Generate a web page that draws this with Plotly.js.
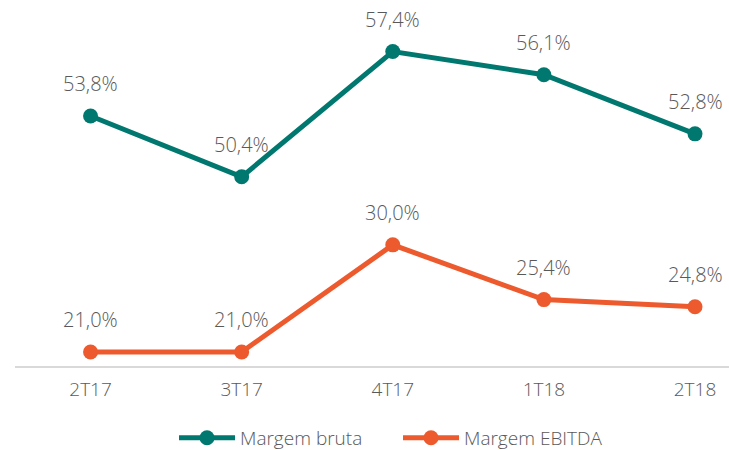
<!DOCTYPE html>
<html>
<head>
<meta charset="utf-8">
<script src="https://cdn.plot.ly/plotly-3.0.1.min.js"></script>
<style>html,body{margin:0;padding:0;background:#fff;}#chart{width:729px;height:450px;}</style>
</head>
<body>
<div id="chart"></div>
<script>
const categories = ["2T17", "3T17", "4T17", "1T18", "2T18"];
const margemBruta = [53.8, 50.4, 57.4, 56.1, 52.8];
const margemEbitda = [21.0, 21.0, 30.0, 25.4, 24.8];
const seriesNames = ["Margem bruta", "Margem EBITDA"];

const teal = "#00786f";
const orange = "#ec5a2e";
const fontFam = "'Open Sans', 'Noto Sans', sans-serif";
const txtCol = "#595959";
const fmt = v => v.toFixed(1).replace(".", ",") + "%";

const traces = [
  {x: categories, y: margemBruta, name: seriesNames[0], type: "scatter", mode: "lines+markers",
   line: {color: teal, width: 5}, marker: {color: teal, size: 15}, yaxis: "y", hoverinfo: "skip"},
  {x: categories, y: margemEbitda, name: seriesNames[1], type: "scatter", mode: "lines+markers",
   line: {color: orange, width: 5}, marker: {color: orange, size: 15}, yaxis: "y2", hoverinfo: "skip"}
];

const labFont = {size: 20, color: txtCol, family: fontFam, weight: 300};
const annotations = [];
categories.forEach((c, i) => {
  annotations.push({x: c, y: margemBruta[i], xref: "x", yref: "y", text: fmt(margemBruta[i]),
    showarrow: false, yshift: 32, font: labFont});
  annotations.push({x: c, y: margemEbitda[i], xref: "x", yref: "y2", text: fmt(margemEbitda[i]),
    showarrow: false, yshift: 32, font: labFont});
});

const layout = {
  width: 729, height: 450,
  margin: {l: 15, r: 0, t: 10, b: 84},
  paper_bgcolor: "#fff", plot_bgcolor: "#fff",
  font: {family: fontFam, color: txtCol},
  showlegend: true,
  legend: {orientation: "h", x: 0.2387, xanchor: "left", xref: "container", y: 0.027, yanchor: "middle", yref: "container",
    font: {size: 19, color: txtCol, family: fontFam, weight: 300}, itemwidth: 56, entrywidth: 153, traceorder: "normal"},
  xaxis: {type: "category", range: [-0.5, 4.225], showgrid: false, zeroline: false,
    showline: true, linecolor: "#d9d9d9", linewidth: 1.5, ticks: "", ticklen: 0, ticklabelstandoff: 6,
    tickfont: {size: 19, color: txtCol, family: fontFam, weight: 300}},
  yaxis: {range: [39.83, 59.72], visible: false, showgrid: false, zeroline: false, fixedrange: true},
  yaxis2: {range: [19.82, 49.74], visible: false, showgrid: false, zeroline: false, overlaying: "y"},
  annotations: annotations
};

Plotly.newPlot("chart", traces, layout, {displayModeBar: false, staticPlot: true});
</script>
</body>
</html>
